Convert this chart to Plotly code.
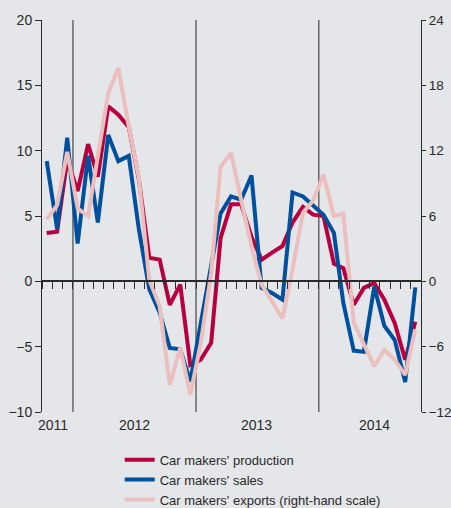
import pandas as pd
import plotly.graph_objects as go

# Monthly observations, Oct 2011 - Oct 2014 (plotted mid-month)
months = pd.date_range("2011-10-01", "2014-10-01", freq="MS") + pd.Timedelta(days=14)

production = [3.7, 3.8, 9.3, 6.9, 10.5, 8.0, 13.4, 12.75, 11.8, 7.8,
              1.8, 1.66, -1.8, -0.25, -6.4, -6.0, -4.7, 3.3, 5.9, 5.9,
              3.4, 1.66, 2.2, 2.7, 4.5, 5.7, 5.1, 5.0, 1.35, 1.0,
              -1.8, -0.5, -0.13, -1.4, -3.2, -6.0, -3.1]

sales = [9.2, 4.0, 11.0, 2.9, 9.6, 4.5, 11.2, 9.2, 9.6, 4.0,
         -0.6, -2.4, -5.1, -5.2, -7.65, -3.3, 1.0, 5.2, 6.5, 6.25,
         8.1, -0.5, -0.9, -1.4, 6.8, 6.5, 5.8, 5.1, 3.7, -1.66,
         -5.3, -5.4, -0.4, -3.4, -4.5, -7.7, -0.46]

exports = [5.7, 7.0, 11.9, 6.7, 6.0, 11.5, 17.3, 19.6, 14.2, 9.5,
           0.15, -2.3, -9.5, -6.1, -10.4, -5.7, 0.77, 10.5, 11.8, 7.5,
           3.2, -0.3, -1.8, -3.4, 1.07, 6.3, 7.4, 9.8, 6.0, 6.2,
           -3.8, -5.8, -7.8, -6.3, -7.2, -8.6, -4.4]

year_labels = ["2011", "2012", "2013", "2014"]
year_label_pos = ["2011-11-04", "2012-07-01", "2013-07-01", "2014-06-16"]
year_lines = ["2012-01-01", "2013-01-01", "2014-01-01"]

left_ticks = [-10, -5, 0, 5, 10, 15, 20]
right_ticks = [-12, -6, 0, 6, 12, 18, 24]

RED = "#b8003f"
BLUE = "#00509e"
PINK = "#ecbfbf"
AX = "#2a2a2a"
BG = "#e4e6e9"

fig = go.Figure()
fig.add_trace(go.Scatter(x=months, y=production, mode="lines",
                         name="Car makers' production",
                         line=dict(color=RED, width=4)))
fig.add_trace(go.Scatter(x=months, y=sales, mode="lines",
                         name="Car makers' sales",
                         line=dict(color=BLUE, width=4)))
fig.add_trace(go.Scatter(x=months, y=exports, mode="lines",
                         name="Car makers' exports (right-hand scale)",
                         line=dict(color=PINK, width=4), yaxis="y2"))

for d in year_lines:
    fig.add_shape(type="line", xref="x", yref="paper", x0=d, x1=d, y0=0, y1=1,
                  line=dict(color="#666666", width=1.5), layer="below")

for lab, pos in zip(year_labels, year_label_pos):
    fig.add_annotation(x=pos, xref="x", y=-0.034, yref="paper", text=lab,
                       showarrow=False, yanchor="middle", xanchor="center",
                       font=dict(size=14, color=AX))

font_family = "Liberation Sans, Arial, sans-serif"

fig.update_layout(
    width=451, height=508, autosize=False,
    margin=dict(l=42, r=30, t=20, b=96, autoexpand=False),
    paper_bgcolor=BG, plot_bgcolor=BG,
    font=dict(family=font_family, size=14, color=AX),
    showlegend=True,
    legend=dict(x=0.205, y=-0.0835, xanchor="left", yanchor="top",
                bgcolor="rgba(0,0,0,0)", font=dict(size=13, color=AX),
                tracegroupgap=0),
    xaxis=dict(range=["2011-10-01", "2014-11-01"], type="date",
               anchor="free", position=1/3, automargin=False,
               showline=True, linecolor=AX, linewidth=1.5,
               ticks="outside", ticklen=7, tickcolor=AX, tickwidth=1,
               dtick="M1", tick0="2011-10-01",
               showticklabels=False, showgrid=False, zeroline=False),
    yaxis=dict(range=[-10, 20], tickvals=left_ticks, automargin=False,
               showline=True, linecolor=AX, linewidth=1,
               ticks="outside", ticklen=6, tickcolor=AX,
               showgrid=False, zeroline=False,
               tickfont=dict(size=14, color=AX)),
    yaxis2=dict(range=[-12, 24], tickvals=right_ticks, overlaying="y",
                side="right", showline=True, linecolor=AX, linewidth=1,
                ticks="outside", ticklen=4, tickcolor=AX, automargin=False,
                showgrid=False, zeroline=False,
                tickfont=dict(size=13.5, color=AX)),
)

fig.write_html("out.html", config={"responsive": False, "displayModeBar": False})

with open("out.html", "r", encoding="utf-8") as f:
    html = f.read()
html = html.replace("<head>", "<head><style>html,body{margin:0;padding:0;overflow:hidden;background:%s}</style>" % BG, 1)
with open("out.html", "w", encoding="utf-8") as f:
    f.write(html)
